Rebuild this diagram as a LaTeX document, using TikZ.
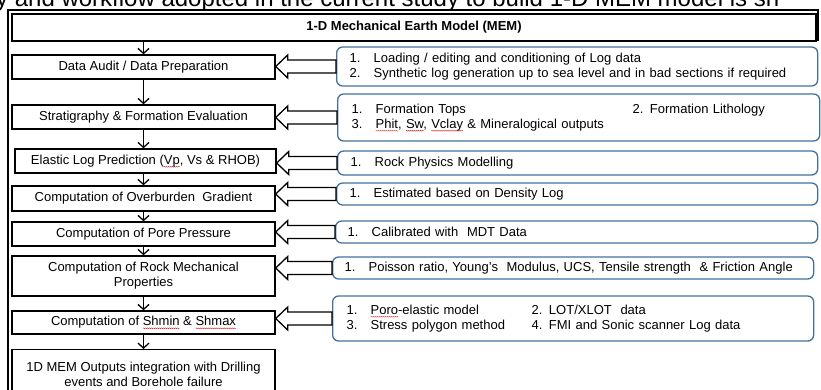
\documentclass[tikz,border=0pt]{standalone}
\usepackage{fontspec}
\setmainfont{Liberation Sans}
\usetikzlibrary{arrows.meta,calc,decorations.pathmorphing}
\definecolor{notecol}{HTML}{41719C}
% red wavy underline, as a spell checker marks a word
\newlength\wavelen
\newcommand\spellwave[1]{\settowidth\wavelen{#1}\makebox[0pt][l]{\raisebox{-2.4pt}{\tikz[overlay,x=1pt,y=1pt]
  \draw[red!85!black,sharp corners,line width=0.3pt,decorate,decoration={snake,amplitude=0.45pt,segment length=2pt}] (0,0) -- (\wavelen,0);}}#1}
\newcommand\itm[1]{\makebox[24pt][l]{#1}}

\begin{document}
\begin{tikzpicture}[x=1pt,y=-1pt,
  txt/.style={font=\fontsize{13}{15}\selectfont},
  stepbox/.style={txt, draw, line width=1.4pt, minimum width=263pt, align=center, inner sep=0pt},
  notebox/.style={txt, draw=notecol, line width=1.3pt, rounded corners=6pt, anchor=west,
    align=left, inner xsep=13pt, inner ysep=0pt, text width=455pt},
  flowarrow/.style={line width=1.3pt, -{Straight Barb[length=5pt,width=11pt,line width=1.3pt]}},
  feedarrow/.style={draw, fill=white, line width=1.3pt, line join=miter}]
\useasboundingbox (0,0) rectangle (821,389);
\clip (0,0) rectangle (821,389);

% caption line running above the frame
\node[anchor=base west, inner sep=0pt, font=\fontsize{24}{28}\selectfont] (caption) at (-4,6.5)
  {y and workflow adopted in the current study to build 1-D MEM model is sh};

% outer frame and title
\draw[line width=1.8pt] (8,400) -- (8,10) -- (818,10) -- (818,41);
\node[draw, line width=1.5pt, minimum width=804pt, minimum height=27pt, inner sep=0pt,
  font=\fontsize{13}{15}\selectfont\bfseries] (title) at (414,27.5)
  {1-D Mechanical Earth Model (MEM)};

% workflow steps
\node[stepbox, minimum height=24pt] (s1) at (143.5,67) {Data Audit / Data Preparation};
\node[stepbox, minimum height=24pt] (s2) at (143.5,117) {Stratigraphy \& Formation Evaluation};
\node[stepbox, minimum height=24pt, minimum width=261pt] (s3) at (145.5,161) {Elastic Log Prediction (\spellwave{Vp}, Vs \& RHOB)};
\node[stepbox, minimum height=25pt] (s4) at (143.5,198.5) {Computation of Overburden\ \ Gradient};
\node[stepbox, minimum height=24pt] (s5) at (143.5,234) {Computation of Pore Pressure};
\node[stepbox, minimum height=40pt] (s6) at (143.5,276) {Computation of Rock Mechanical\\Properties};
\node[stepbox, minimum height=23pt] (s7) at (143.5,322.5) {Computation of \spellwave{Shmin} \& \spellwave{Shmax}};
\node[stepbox, minimum height=50pt, anchor=north] (s8) at (143.5,349) {1D MEM Outputs integration with Drilling\\events and Borehole failure};

% notes feeding each step
\node[notebox, minimum height=39pt] (n1) at (336,66.5)
  {\itm{1.}Loading / editing and conditioning of Log data\\\itm{2.}Synthetic log generation up to sea level and in bad sections if required};
\node[notebox, minimum height=47pt, text width=454pt, inner xsep=14pt] (n2) at (337,117.5)
  {\itm{1.}\makebox[257pt][l]{Formation Tops}2. Formation Lithology\\\itm{3.}\spellwave{Phit}, \spellwave{Sw}, \spellwave{Vclay} \& Mineralogical outputs};
\node[notebox, minimum height=24pt, text width=454pt] (n3) at (337,163)
  {\itm{1.}Rock Physics Modelling};
\node[notebox, minimum height=22pt] (n4) at (336,194)
  {\itm{1.}Estimated based on Density Log};
\node[notebox, minimum height=22pt, inner xsep=12pt, text width=458pt] (n5) at (335,232)
  {\itm{1.}Calibrated with\ \ MDT Data};
\node[notebox, minimum height=22pt, inner xsep=12pt, text width=457pt] (n6) at (332,268)
  {\itm{1.}Poisson ratio, Young's\ \ Modulus, UCS, Tensile strength\ \ \& Friction Angle};
\node[notebox, minimum height=45pt, inner xsep=14pt, text width=453pt] (n7) at (332,318.5)
  {\itm{1.}\makebox[161pt][l]{\spellwave{Poro}-elastic model}2. LOT/XLOT\ \ data\\\itm{3.}\makebox[161pt][l]{Stress polygon method}4. FMI and Sonic scanner Log data};

% downward flow
\draw[flowarrow] (title.south -| s1.north) -- (s1.north);
\foreach \a/\b in {s1/s2, s2/s3, s3/s4, s4/s5, s5/s6, s6/s7, s7/s8}
  \draw[flowarrow] (\a.south -| s1.north) -- (\b.north -| s1.north);

% hollow block arrows from each note to its step
\foreach \stp/\nte in {s1/n1, s2/n2, s3/n3, s4/n4, s5/n5, s6/n6, s7/n7}
  \path[feedarrow] let \p1=(\stp.east), \p2=(\nte.west) in
    (\x1,\y2) -- (\x1+12pt,\y2+11.5pt) -- (\x1+12pt,\y2+6.5pt) -- (\x2,\y2+6.5pt)
    -- (\x2,\y2-6.5pt) -- (\x1+12pt,\y2-6.5pt) -- (\x1+12pt,\y2-11.5pt) -- cycle;
\end{tikzpicture}
\end{document}
